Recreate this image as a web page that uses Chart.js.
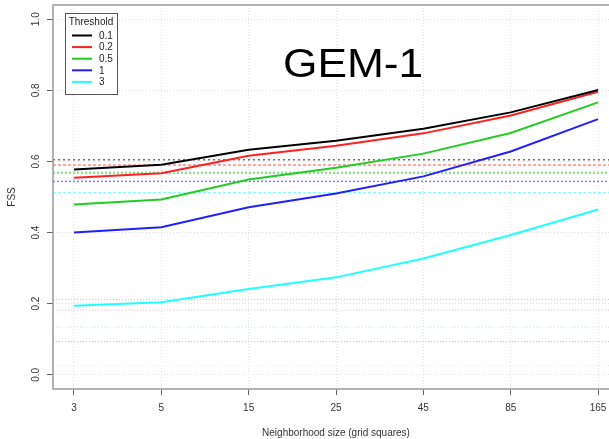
<!DOCTYPE html>
<html>
<head>
<meta charset="utf-8">
<script src="https://cdn.jsdelivr.net/npm/chart.js@4.4.0/dist/chart.umd.min.js"></script>
<style>
  html, body { margin: 0; padding: 0; background: #fff; overflow: hidden; }
  canvas { display: block; }
</style>
</head>
<body>
<!-- the original plot is cut off on the right, so the canvas is a little wider than the window -->
<canvas id="myChart" width="619" height="439"></canvas>
<script>
// categories and values
const neighborhood = ['3', '5', '15', '25', '45', '85', '165'];
const thresholds = ['0.1', '0.2', '0.5', '1', '3'];

const fss01 = [0.577, 0.591, 0.633, 0.658, 0.692, 0.738, 0.801];
const fss02 = [0.554, 0.567, 0.616, 0.644, 0.679, 0.729, 0.796];
const fss05 = [0.479, 0.493, 0.549, 0.582, 0.622, 0.680, 0.766];
const fss1  = [0.400, 0.415, 0.471, 0.510, 0.558, 0.628, 0.719];
const fss3  = [0.194, 0.204, 0.241, 0.274, 0.327, 0.393, 0.465];

// horizontal reference lines, one per threshold
const fssUniform = [0.605, 0.590, 0.568, 0.544, 0.512];
const fssRandom  = [0.212, 0.182, 0.134, 0.093, 0.026];

const yTicks = [0, 0.2, 0.4, 0.6, 0.8, 1.0];

// styles
const lineColors  = ['#000000', '#ff2020', '#22cc22', '#2020ff', '#20ffff'];
const upperColors = ['#707070', '#ff5050', '#90e090', '#7a7aff', '#60ffff'];
const upperDash   = [[2, 3], [3, 2], [2, 2], [2, 2], [3, 2]];
const upperWidth  = [1.5, 1, 2.5, 1.5, 1];
const lowerColors = ['#c4c4c4', '#ffb8b8', '#b8eeb8', '#b8b8ff', '#b8ffff'];

// R style 4% extension of the 1..7 range
const X_MIN = 0.76, X_MAX = 7.24;
const FONT = '"Liberation Sans", Arial, sans-serif';

const allFss = [fss01, fss02, fss05, fss1, fss3];
const datasets = [];

thresholds.forEach((t, k) => {
  datasets.push({
    label: t,
    data: allFss[k].map((v, i) => ({ x: i + 1, y: v })),
    borderColor: lineColors[k],
    borderWidth: 2,
    pointRadius: 0,
    tension: 0,
    order: 0
  });
});

// reference lines run across the whole plot
thresholds.forEach((t, k) => {
  datasets.push({
    label: 'uniform ' + t,
    data: [{ x: X_MIN, y: fssUniform[k] }, { x: X_MAX, y: fssUniform[k] }],
    borderColor: upperColors[k],
    borderDash: upperDash[k],
    borderWidth: upperWidth[k],
    pointRadius: 0,
    order: 1
  });
  datasets.push({
    label: 'random ' + t,
    data: [{ x: X_MIN, y: fssRandom[k] }, { x: X_MAX, y: fssRandom[k] }],
    borderColor: lowerColors[k],
    borderDash: [1, 2],
    borderWidth: 1,
    pointRadius: 0,
    order: 1
  });
});

// frame, legend, big title, rotated y labels
const extras = {
  id: 'extras',
  afterDraw(chart) {
    const ctx = chart.ctx;
    const a = chart.chartArea;

    ctx.save();
    ctx.strokeStyle = '#9a9a9a';
    ctx.lineWidth = 1.5;
    ctx.strokeRect(a.left, a.top, a.right - a.left, a.bottom - a.top);

    // y labels, rotated like R
    const ys = chart.scales.y;
    ctx.fillStyle = '#333';
    ctx.font = '10px ' + FONT;
    ctx.textAlign = 'center';
    ctx.textBaseline = 'middle';
    ys.ticks.forEach(t => {
      const py = ys.getPixelForValue(t.value);
      ctx.save();
      ctx.translate(36, py);
      ctx.rotate(-Math.PI / 2);
      ctx.fillText(t.value.toFixed(1), 0, 0);
      ctx.restore();
    });

    // legend
    ctx.fillStyle = '#fff';
    ctx.fillRect(65, 13, 52, 81);
    ctx.strokeStyle = '#555';
    ctx.lineWidth = 1;
    ctx.strokeRect(65.5, 13.5, 52, 81);
    ctx.fillStyle = '#222';
    ctx.textAlign = 'center';
    ctx.fillText('Threshold', 91, 22.5);
    ctx.textAlign = 'left';
    for (let k = 0; k < thresholds.length; k++) {
      const ly = 35.5 + 11.6 * k;
      ctx.strokeStyle = chart.data.datasets[k].borderColor;
      ctx.lineWidth = 2;
      ctx.beginPath();
      ctx.moveTo(72, ly);
      ctx.lineTo(92, ly);
      ctx.stroke();
      ctx.fillStyle = '#222';
      ctx.fillText(chart.data.datasets[k].label, 99, ly + 0.5);
    }

    // big title
    ctx.fillStyle = '#000';
    ctx.font = '41px ' + FONT;
    ctx.textAlign = 'left';
    ctx.textBaseline = 'alphabetic';
    ctx.translate(283, 77);
    ctx.scale(1.08, 1);
    ctx.fillText('GEM-1', 0, 0);
    ctx.restore();
  }
};

const myChart = new Chart(document.getElementById('myChart'), {
  type: 'line',
  data: { datasets: datasets },
  options: {
    responsive: false,
    devicePixelRatio: 1,
    animation: false,
    layout: { padding: { left: 0, right: 0, top: 5, bottom: 0 } },
    plugins: {
      legend: { display: false },
      tooltip: { enabled: false }
    },
    scales: {
      x: {
        type: 'linear',
        min: X_MIN,
        max: X_MAX,
        afterBuildTicks: s => { s.ticks = neighborhood.map((_, i) => ({ value: i + 1 })); },
        afterFit: s => { s.height = 50; s.paddingLeft = 0; s.paddingRight = 0; },
        ticks: {
          autoSkip: false,
          maxRotation: 0,
          padding: 7,
          color: '#333',
          font: { family: FONT, size: 10 },
          callback: (v, i) => neighborhood[i]
        },
        grid: { color: '#e0e0e0', lineWidth: 1, tickLength: 6, tickColor: '#666', tickWidth: 1 },
        border: { display: false, dash: [1, 2] },
        title: {
          display: true,
          text: 'Neighborhood size (grid squares)',
          color: '#333',
          font: { family: FONT, size: 10 },
          padding: { top: 0, bottom: 0 }
        }
      },
      y: {
        type: 'linear',
        min: -0.04,
        max: 1.04,
        afterBuildTicks: s => { s.ticks = yTicks.map(v => ({ value: v })); },
        afterFit: s => { s.width = 53; s.paddingTop = 0; s.paddingBottom = 0; },
        ticks: { display: false },
        grid: { color: '#e0e0e0', lineWidth: 1, tickLength: 6, tickColor: '#666', tickWidth: 1 },
        border: { display: false, dash: [1, 2] },
        title: {
          display: true,
          text: 'FSS',
          color: '#333',
          font: { family: FONT, size: 10 },
          padding: { top: 6, bottom: 0 }
        }
      }
    }
  },
  plugins: [extras]
});
</script>
</body>
</html>
